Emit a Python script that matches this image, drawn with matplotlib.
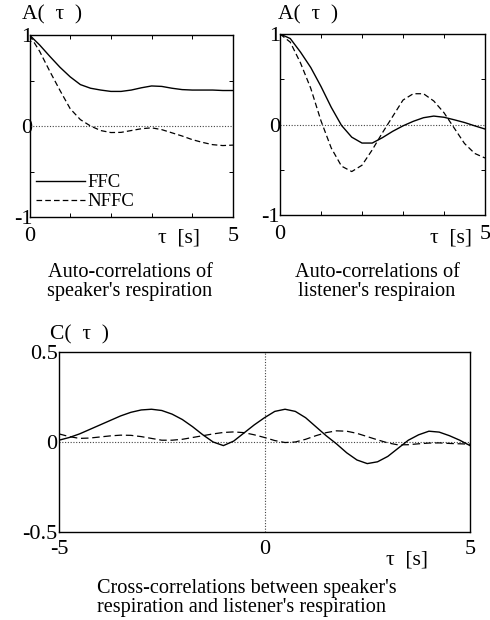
import numpy as np
import matplotlib
matplotlib.use("Agg")
import matplotlib.pyplot as plt

plt.rcParams['font.family'] = ['Liberation Serif', 'DejaVu Serif']

# ---------------- data ----------------
t_auto = [0.0, 0.25, 0.5, 0.75, 1.0, 1.25, 1.5, 1.75, 2.0, 2.25, 2.5, 2.75,
          3.0, 3.25, 3.5, 3.75, 4.0, 4.25, 4.5, 4.75, 5.0]

speaker_ffc = [1.0, 0.89, 0.765, 0.645, 0.54, 0.455, 0.415, 0.395, 0.38, 0.38, 0.395,
               0.42, 0.44, 0.435, 0.415, 0.40, 0.395, 0.395, 0.395, 0.39, 0.39]
speaker_nffc = [1.0, 0.82, 0.60, 0.39, 0.19, 0.07, 0.0, -0.05, -0.072, -0.07, -0.05,
                -0.03, -0.02, -0.04, -0.075, -0.11, -0.15, -0.18, -0.205, -0.215, -0.21]

listener_ffc = [1.0, 0.95, 0.80, 0.63, 0.42, 0.19, -0.01, -0.14, -0.205, -0.205, -0.145,
                -0.075, -0.015, 0.035, 0.075, 0.093, 0.08, 0.052, 0.022, -0.015, -0.05]
listener_nffc = [1.0, 0.91, 0.68, 0.40, 0.04, -0.26, -0.46, -0.52, -0.45, -0.28, -0.09,
                 0.09, 0.27, 0.34, 0.34, 0.26, 0.13, -0.04, -0.21, -0.32, -0.37]

t_cross = [-5.0, -4.75, -4.5, -4.25, -4.0, -3.75, -3.5, -3.25, -3.0, -2.75, -2.5,
           -2.25, -2.0, -1.75, -1.5, -1.25, -1.0, -0.75, -0.5, -0.25, 0.0,
           0.25, 0.5, 0.75, 1.0, 1.25, 1.5, 1.75, 2.0, 2.25, 2.5,
           2.75, 3.0, 3.25, 3.5, 3.75, 4.0, 4.25, 4.5, 4.75, 5.0]
cross_ffc = [0.01, 0.025, 0.045, 0.07, 0.095, 0.12, 0.145, 0.165, 0.178, 0.182, 0.175,
             0.155, 0.125, 0.085, 0.04, 0.0, -0.02, 0.005, 0.05, 0.095, 0.135,
             0.17, 0.182, 0.17, 0.135, 0.085, 0.035, -0.01, -0.06, -0.10, -0.12,
             -0.11, -0.08, -0.035, 0.01, 0.04, 0.06, 0.055, 0.035, 0.01, -0.02]
cross_nffc = [0.045, 0.03, 0.02, 0.022, 0.028, 0.034, 0.038, 0.037, 0.03, 0.02, 0.01,
              0.01, 0.015, 0.025, 0.035, 0.045, 0.053, 0.056, 0.052, 0.04, 0.025,
              0.008, -0.003, 0.0, 0.015, 0.035, 0.052, 0.062, 0.06, 0.048, 0.03,
              0.012, -0.005, -0.016, -0.015, -0.01, -0.006, -0.005, -0.008, -0.01, -0.012]

legend_labels = ["FFC", "NFFC"]
auto_captions = ["Auto-correlations of\nspeaker's respiration",
                 "Auto-correlations of\nlistener's respiraion"]
cross_caption = "Cross-correlations between speaker's\nrespiration and listener's respiration"

# ---------------- figure ----------------
W, H = 490, 620
fig = plt.figure(figsize=(W / 100, H / 100), dpi=100)

FS_TICK = 16
FS_LBL = 15.5
FS_CAP = 14.6
FS_LEG = 13.5
DASH = (4.5, 2.5)
DOT = (0, (1, 1.5))


def px(x, y):
    return x / W, 1 - y / H


def style_axes(ax):
    for s in ax.spines.values():
        s.set_linewidth(1.0)
        s.set_color('black')
    ax.tick_params(which='both', direction='in', top=True, right=True,
                   labelsize=FS_TICK, colors='black')
    ax.tick_params(which='major', length=0)
    ax.tick_params(which='minor', length=3, width=0.7)


def auto_panel(rect, ffc, nffc, caption, cap_x, lbl_x, tau_x, ypad, legend=False):
    ax = fig.add_axes(rect)
    ax.axhline(0, color='#444444', lw=0.8, ls=DOT)
    l1, = ax.plot(t_auto, ffc, color='black', lw=1.0)
    l2, = ax.plot(t_auto, nffc, color='black', lw=0.9, dashes=DASH)
    ax.set_xlim(0, 5)
    ax.set_ylim(-1, 1)
    ax.set_xticks([0, 5])
    ax.set_xticklabels(['0', '5'])
    ax.set_yticks([-1, 0, 1])
    ax.set_yticklabels(['-1', '0', '1'])
    ax.set_xticks([1, 2, 3, 4], minor=True)
    ax.set_yticks([-0.5, 0.5], minor=True)
    style_axes(ax)
    ax.tick_params(axis='x', which='major', pad=7)
    ax.tick_params(axis='y', which='major', pad=ypad)
    fig.text(*px(lbl_x, 15), "A(  τ  )", fontsize=FS_LBL, ha='left', va='center')
    fig.text(*px(tau_x, 238), "τ  [s]", fontsize=FS_LBL, ha='left', va='center')
    fig.text(*px(cap_x, 282), caption, fontsize=FS_CAP, ha='center', va='center',
             multialignment='center', linespacing=1.05)
    if legend:
        ax.legend([l1, l2], legend_labels, loc='lower left', frameon=False,
                  fontsize=FS_LEG, handlelength=2.6, handletextpad=0.15,
                  labelspacing=0.1, borderaxespad=0.25, borderpad=0.1)
    return ax


auto_panel([29.5 / W, 1 - 217 / H, 203.5 / W, 182 / H], speaker_ffc, speaker_nffc,
           auto_captions[0], 130, 22, 158, -2, legend=True)
auto_panel([280 / W, 1 - 215 / H, 205 / W, 181 / H], listener_ffc, listener_nffc,
           auto_captions[1], 377, 278, 430, 0)

# cross-correlation panel
ax = fig.add_axes([59 / W, 1 - 532 / H, 411 / W, 180 / H])
ax.axhline(0, color='#444444', lw=0.8, ls=DOT)
ax.axvline(0, color='#444444', lw=0.8, ls=DOT)
ax.plot(t_cross, cross_ffc, color='black', lw=1.0)
ax.plot(t_cross, cross_nffc, color='black', lw=0.9, dashes=(6, 3))
ax.set_xlim(-5, 5)
ax.set_ylim(-0.5, 0.5)
ax.set_xticks([-5, 0, 5])
ax.set_xticklabels(['-5', '0', '5'])
ax.set_yticks([-0.5, 0, 0.5])
ax.set_yticklabels(['-0.5', '0', '0.5'])
style_axes(ax)
ax.tick_params(axis='x', which='major', pad=6)
ax.tick_params(axis='y', which='major', pad=1)
fig.text(*px(50, 335), "C(  τ  )", fontsize=FS_LBL, ha='left', va='center')
fig.text(*px(386, 560), "τ  [s]", fontsize=FS_LBL, ha='left', va='center')
fig.text(*px(97, 598), cross_caption, fontsize=FS_CAP, ha='left', va='center',
         linespacing=1.05)

fig.savefig("out.png", dpi=100, facecolor='white')
